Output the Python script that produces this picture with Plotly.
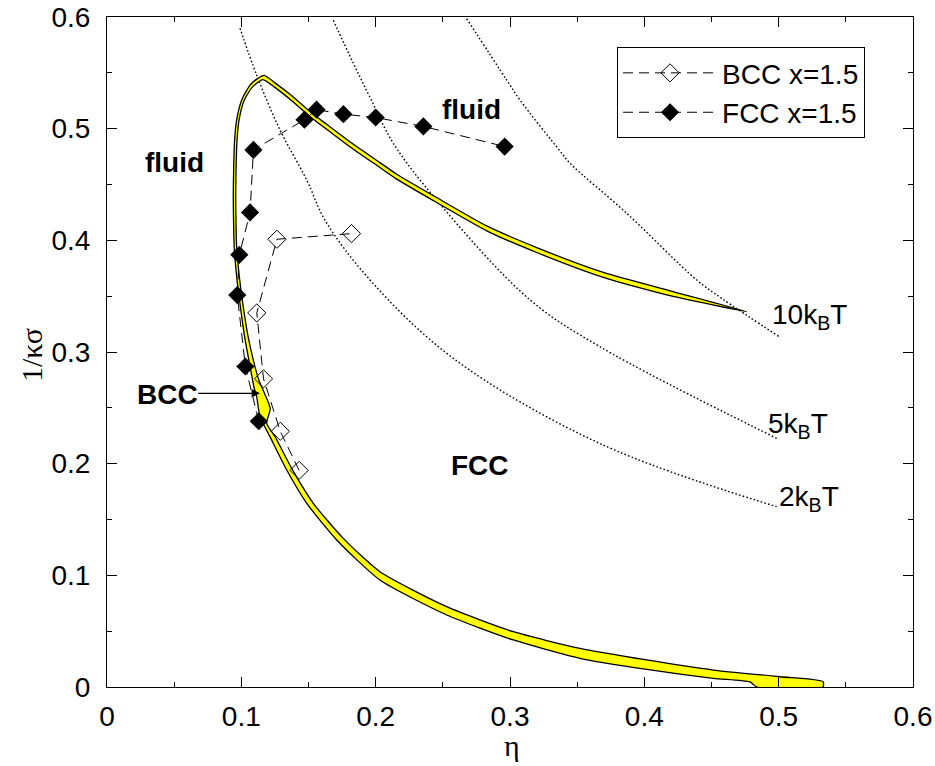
import plotly.graph_objects as go

# ---------------- data ----------------
fcc_eta = [0.113, 0.103, 0.097, 0.0985, 0.1065, 0.109, 0.147, 0.156, 0.176, 0.200, 0.2355, 0.296]
fcc_y = [0.238, 0.287, 0.351, 0.387, 0.425, 0.481, 0.508, 0.517, 0.513, 0.510, 0.502, 0.484]

bcc_eta = [0.143, 0.129, 0.1165, 0.1115, 0.1265, 0.182]
bcc_y = [0.194, 0.229, 0.276, 0.335, 0.401, 0.406]

# coexistence band: fluid-side edge and solid-side edge
fluid_edge_eta = [0.4762, 0.4191, 0.3695, 0.3199, 0.2827, 0.2454,
                  0.2157, 0.2032, 0.1834, 0.1635, 0.1536, 0.1362, 0.1250, 0.1171, 0.1120,
                  0.1065, 0.1003, 0.0965, 0.0950, 0.0943, 0.0940, 0.0942, 0.0947, 0.0968,
                  0.0998, 0.1028, 0.1065, 0.1095, 0.1114, 0.1139, 0.1213, 0.1338, 0.1487,
                  0.1710, 0.2032, 0.2529, 0.3025, 0.3521, 0.4018, 0.4514, 0.4787, 0.4837]
fluid_edge_y = [0.3361, 0.3548, 0.3712, 0.3935, 0.4129, 0.4383,
                0.4592, 0.4696, 0.4860, 0.5039, 0.5129, 0.5308, 0.5410, 0.5478, 0.5448,
                0.5390, 0.5257, 0.5077, 0.4900, 0.4650, 0.4400, 0.4180, 0.3940, 0.3645,
                0.3360, 0.3110, 0.2870, 0.2680, 0.2600, 0.2421, 0.2242, 0.1943, 0.1645,
                0.1316, 0.0958, 0.0645, 0.0421, 0.0257, 0.0158, 0.0078, 0.0045, 0.0]

solid_edge_eta = [0.4762, 0.4191, 0.3695, 0.3199, 0.2827, 0.2454,
                  0.2157, 0.2032, 0.1834, 0.1635, 0.1536, 0.1362, 0.1250, 0.1160, 0.1080,
                  0.1020, 0.0983, 0.0968, 0.0961, 0.0958, 0.0960, 0.0965, 0.0988, 0.1020,
                  0.1055, 0.1130, 0.1215, 0.1189, 0.1251, 0.1375, 0.1536, 0.1759, 0.2032,
                  0.2529, 0.3025, 0.3521, 0.4018, 0.4514, 0.501, 0.533, 0.533]
solid_edge_y = [0.3361, 0.3504, 0.3668, 0.3891, 0.4085, 0.4339,
                0.4548, 0.4652, 0.4816, 0.4995, 0.5085, 0.5264, 0.5370, 0.5440, 0.5370,
                0.5250, 0.5077, 0.4900, 0.4650, 0.4400, 0.4180, 0.3940, 0.3645, 0.3360,
                0.3110, 0.2749, 0.2496, 0.2361, 0.2242, 0.1958, 0.1645, 0.1331, 0.1032,
                0.0719, 0.0495, 0.0346, 0.0242, 0.0152, 0.0092, 0.0048, 0.0]

# iso-energy curves
c2_eta = [0.099, 0.1114, 0.1288, 0.1487, 0.1623, 0.1958, 0.2578, 0.367, 0.4985]
c2_y = [0.590, 0.548, 0.4988, 0.454, 0.418, 0.3645, 0.2943, 0.218, 0.1615]
c5_eta = [0.1685, 0.1834, 0.1966, 0.2131, 0.2454, 0.315, 0.367, 0.4985]
c5_y = [0.597, 0.5585, 0.526, 0.487, 0.436, 0.3466, 0.3047, 0.2227]
c10_eta = [0.2677, 0.2975, 0.3074, 0.3372, 0.3447, 0.3869, 0.439, 0.4576, 0.501]
c10_y = [0.5986, 0.5436, 0.5257, 0.480, 0.469, 0.4242, 0.3645, 0.348, 0.3132]

axis_ticks = [0, 0.1, 0.2, 0.3, 0.4, 0.5, 0.6]
tick_text = ["0", "0.1", "0.2", "0.3", "0.4", "0.5", "0.6"]
minor_ticks = [0.05, 0.15, 0.25, 0.35, 0.45, 0.55]

SANS = "Liberation Sans"
SERIF = "Liberation Serif"
FS = 28

fig = go.Figure()

for ex, ey in [(c2_eta, c2_y), (c5_eta, c5_y), (c10_eta, c10_y)]:
    fig.add_trace(go.Scatter(x=ex, y=ey, mode="lines", showlegend=False,
                             line=dict(color="black", width=1.4, dash="1.6px,2.2px", shape="spline"),
                             hoverinfo="skip"))

band_x = fluid_edge_eta + solid_edge_eta[::-1]
band_y = fluid_edge_y + solid_edge_y[::-1]
fig.add_trace(go.Scatter(x=band_x, y=band_y, mode="lines", fill="toself",
                         fillcolor="#ffff00",
                         line=dict(color="black", width=1.3, shape="spline", smoothing=0.6),
                         showlegend=False, hoverinfo="skip"))

fig.add_trace(go.Scatter(x=bcc_eta, y=bcc_y, mode="lines+markers", name="BCC x=1.5",
                         line=dict(color="black", width=1, dash="10px,6px"),
                         marker=dict(symbol="diamond-open", size=14, color="black",
                                     line=dict(width=1, color="black"))))
fig.add_trace(go.Scatter(x=fcc_eta, y=fcc_y, mode="lines+markers", name="FCC x=1.5",
                         line=dict(color="black", width=1, dash="10px,6px"),
                         marker=dict(symbol="diamond", size=14, color="black")))

labels = [
    ("<b>fluid</b>", 0.0506, 0.470, "center"),
    ("<b>fluid</b>", 0.2715, 0.5176, "center"),
    ("<b>BCC</b>", 0.0447, 0.2615, "center"),
    ("<b>FCC</b>", 0.2777, 0.1988, "center"),
    ("10k<sub>B</sub>T", 0.4936, 0.332, "left"),
    ("5k<sub>B</sub>T", 0.4904, 0.2346, "left"),
    ("2k<sub>B</sub>T", 0.4985, 0.1690, "left"),
]
for t, x, y, anc in labels:
    fig.add_annotation(x=x, y=y, text=t, showarrow=False, xanchor=anc, yanchor="middle",
                       font=dict(family=SANS, size=FS, color="black"))

fig.add_annotation(x=0.1139, y=0.263, ax=0.0668, ay=0.263, axref="x", ayref="y",
                   xref="x", yref="y", text="", showarrow=True, arrowhead=2,
                   arrowsize=1.4, arrowwidth=1.2, arrowcolor="black")

# axis titles
fig.add_annotation(xref="paper", yref="paper", x=0.5025, y=-0.0866, text="η",
                   showarrow=False, xanchor="center", yanchor="middle",
                   font=dict(family=SERIF, size=30, color="black"))
fig.add_annotation(xref="paper", yref="paper", x=-0.0943, y=0.4955, text="1/κσ",
                   showarrow=False, xanchor="center", yanchor="middle", textangle=-90,
                   font=dict(family=SERIF, size=30, color="black"))

axis_common = dict(range=[0, 0.6], tickvals=axis_ticks, ticktext=tick_text,
                   showline=True, linecolor="black", linewidth=1, mirror="allticks",
                   ticks="inside", ticklen=10, tickwidth=1, tickcolor="black",
                   minor=dict(ticks="inside", ticklen=5, tickwidth=1, tickcolor="black",
                              tickvals=minor_ticks),
                   showgrid=False, zeroline=False, automargin=False,
                   ticklabeloverflow="allow",
                   tickfont=dict(family=SANS, size=FS, color="black"))

fig.update_xaxes(**axis_common, ticklabelstandoff=4)
fig.update_yaxes(**axis_common, ticklabelstandoff=10)

fig.update_layout(
    width=935, height=766,
    margin=dict(l=107, r=22, t=17, b=79),
    paper_bgcolor="white", plot_bgcolor="white",
    legend=dict(x=0.6328, y=0.955, xanchor="left", yanchor="top",
                bordercolor="black", borderwidth=1, bgcolor="white",
                font=dict(family=SANS, size=FS, color="black"),
                itemwidth=94, tracegroupgap=0),
)

# remove the page's default body margin so the figure fills the window exactly
fig.write_html("out.html", config={"displayModeBar": False},
               post_script="document.body.style.margin='0px';document.body.style.overflow='hidden';")
